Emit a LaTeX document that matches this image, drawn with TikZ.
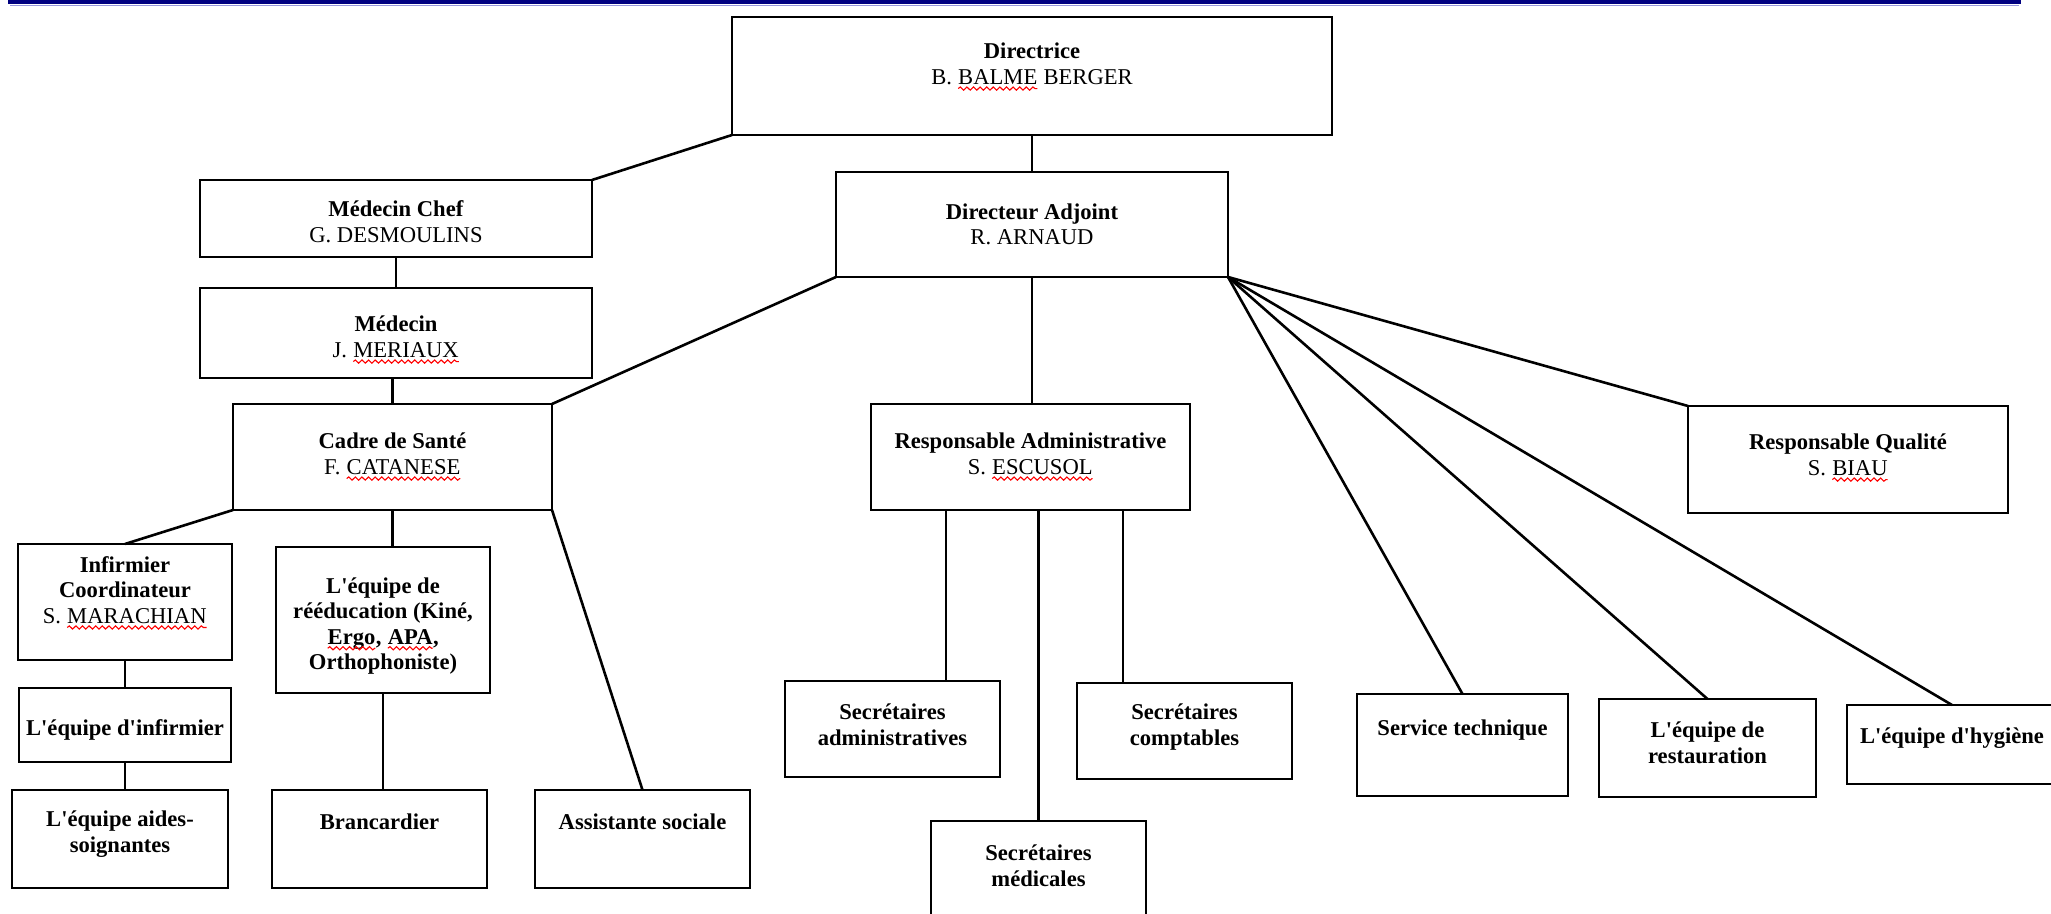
\documentclass[tikz,border=0pt]{standalone}
\usepackage{fontspec}
\setmainfont{Liberation Serif}
\usetikzlibrary{calc,decorations.pathmorphing}
\newcommand\wv[1]{\tikz[baseline=(wv.base)]{\node[inner sep=0pt,outer sep=0pt] (wv) {#1};\draw[red,line width=0.55pt,decorate,decoration={snake,amplitude=0.8pt,segment length=3.3pt}] ([yshift=-2pt]wv.base west) -- ([yshift=-2pt]wv.base east);}}
\newcommand\ap{\textquotesingle}
\tikzset{
  box/.style={draw=black,line width=1.45pt,fill=white,inner sep=0pt,outer sep=0pt},
  lbl/.style={align=center,inner sep=0pt,font=\fontsize{11.3}{12.8}\selectfont},
  blbl/.style={lbl,font=\fontsize{11.3}{12.8}\selectfont\bfseries},
  conn/.style={draw=black,line width=1.3pt}
}
\begin{document}
\begin{tikzpicture}[x=0.5pt,y=-0.5pt]
\useasboundingbox (0,0) rectangle (2051,914);
\clip (0,0) rectangle (2051,914);
\fill[white] (0,0) rectangle (2051,914);
% top bar
\fill[fill={rgb,255:red,0;green,0;blue,128}] (8,0) rectangle (2021,4.5);
\draw[line width=0.6pt,color={rgb,255:red,150;green,150;blue,220}] (10,5.6) -- (2019,5.6);
% boxes
\node[box,minimum width=300pt,minimum height=59pt] (dir) at (1032,76) {};
\node[box,minimum width=196pt,minimum height=38.5pt] (medchef) at (396,218.5) {};
\node[box,minimum width=196pt,minimum height=45pt] (med) at (396,333) {};
\node[box,minimum width=196pt,minimum height=52.5pt] (da) at (1032,224.5) {};
\node[box,minimum width=159.5pt,minimum height=53pt] (cadre) at (392.5,457) {};
\node[box,minimum width=159.5pt,minimum height=53pt] (radm) at (1030.5,457) {};
\node[box,minimum width=160pt,minimum height=53.5pt] (rq) at (1848,459.5) {};
\node[box,minimum width=107pt,minimum height=58pt] (ic) at (125,602) {};
\node[box,minimum width=107pt,minimum height=73pt] (reed) at (383,620) {};
\node[box,minimum width=106pt,minimum height=37pt] (ei) at (125,725) {};
\node[box,minimum width=108pt,minimum height=49pt] (as) at (120,839) {};
\node[box,minimum width=107.5pt,minimum height=49pt] (br) at (379.5,839) {};
\node[box,minimum width=107.5pt,minimum height=49pt] (ass) at (642.5,839) {};
\node[box,minimum width=107.5pt,minimum height=48pt] (sa) at (892.5,729) {};
\node[box,minimum width=107.5pt,minimum height=48pt] (sc) at (1184.5,731) {};
\node[box,minimum width=107.5pt,minimum height=54pt] (sm) at (1038.5,875) {};
\node[box,minimum width=105.5pt,minimum height=51pt] (st) at (1462.5,745) {};
\node[box,minimum width=108.5pt,minimum height=49pt] (rest) at (1707.5,748) {};
\node[box,minimum width=105pt,minimum height=39.5pt] (hyg) at (1952,744.5) {};
% texts
\node[lbl] (dir-t) at (1032,67) {\textbf{Directrice}\\B. \wv{BALME} BERGER};
\node[lbl] (medchef-t) at (396,222) {\textbf{Médecin Chef}\\G. DESMOULINS};
\node[lbl] (med-t) at (396,340) {\textbf{Médecin}\\J. \wv{MERIAUX}};
\node[lbl] (da-t) at (1032,224.5) {\textbf{Directeur Adjoint}\\R. ARNAUD};
\node[lbl] (cadre-t) at (392.5,457) {\textbf{Cadre de Santé}\\F. \wv{CATANESE}};
\node[lbl] (radm-t) at (1030.5,457) {\textbf{Responsable Administrative}\\S. \wv{ESCUSOL}};
\node[lbl] (rq-t) at (1848,458) {\textbf{Responsable Qualité}\\S. \wv{BIAU}};
\node[lbl] (ic-t) at (125,593) {\textbf{Infirmier}\\\textbf{Coordinateur}\\S. \wv{MARACHIAN}};
\node[blbl] (reed-t) at (383,626) {L\ap équipe de\\rééducation (Kiné,\\\wv{Ergo}, \wv{APA},\\Orthophoniste)};
\node[blbl] (ei-t) at (125,730) {L\ap équipe d\ap infirmier};
\node[blbl] (as-t) at (120,834) {L\ap équipe aides-\\soignantes};
\node[blbl] (br-t) at (379.5,822) {Brancardier};
\node[blbl] (ass-t) at (642.5,822) {Assistante sociale};
\node[blbl] (sa-t) at (892.5,725) {Secrétaires\\administratives};
\node[blbl] (sc-t) at (1184.5,727) {Secrétaires\\comptables};
\node[blbl] (sm-t) at (1038.5,866) {Secrétaires\\médicales};
\node[blbl] (st-t) at (1462.5,730) {Service technique};
\node[blbl] (rest-t) at (1707.5,743) {L\ap équipe de\\restauration};
\node[blbl] (hyg-t) at (1952,738) {L\ap équipe d\ap hygiène};
% connectors
\draw[conn] (dir.south west) -- (medchef.north east);
\draw[conn] (dir.south) -- (da.north);
\draw[conn] (medchef.south) -- (med.north);
\draw[conn] (cadre.north) -- (cadre.north |- med.south);
\draw[conn] (da.south west) -- (cadre.north east);
\draw[conn] (da.south) -- (da.south |- radm.north);
\draw[conn] (da.south east) -- (rq.north west);
\draw[conn] (da.south east) -- (st.north);
\draw[conn] (da.south east) -- (rest.north);
\draw[conn] (da.south east) -- (hyg.north);
\draw[conn] (cadre.south west) -- (ic.north);
\draw[conn] (cadre.south) -- (cadre.south |- reed.north);
\draw[conn] (cadre.south east) -- (ass.north);
\draw[conn] (ic.south) -- (ei.north);
\draw[conn] (ei.south) -- (ei.south |- as.north);
\draw[conn] (reed.south) -- (reed.south |- br.north);
\coordinate (ra1) at ($(radm.south west)!0.235!(radm.south east)$);
\coordinate (ra3) at ($(radm.south west)!0.79!(radm.south east)$);
\draw[conn] (ra1) -- (ra1 |- sa.north);
\draw[conn] (sm.north |- radm.south) -- (sm.north);
\draw[conn] (ra3) -- (ra3 |- sc.north);
\end{tikzpicture}
\end{document}
